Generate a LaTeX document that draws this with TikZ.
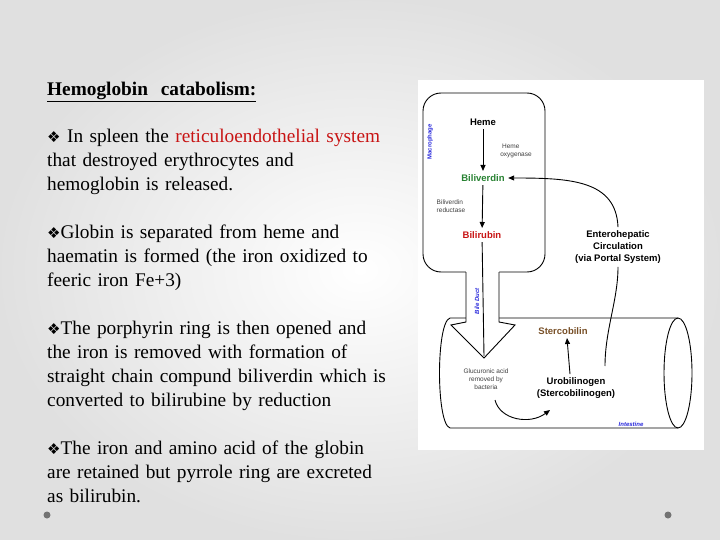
\documentclass[tikz,border=0pt]{standalone}
\usepackage{fontspec}
\setmainfont{Liberation Serif}
\newfontfamily\arialf{Liberation Sans}
\newfontfamily\dejav{DejaVu Sans}
\usetikzlibrary{arrows.meta}
\definecolor{redt}{RGB}{200,20,20}
\definecolor{greent}{RGB}{40,130,50}
\definecolor{brownt}{RGB}{120,80,40}
\definecolor{bluet}{RGB}{40,40,220}
\newcommand{\bul}{{\dejav\fontsize{15}{15}\selectfont ❖}}
\begin{document}
\begin{tikzpicture}[x=1pt,y=-1pt,
  body/.style={anchor=north west,align=left,text width=370pt,font=\fontsize{19.3}{24}\selectfont,inner sep=0pt},
  lab/.style={font=\arialf\bfseries\fontsize{9.5}{12}\selectfont,align=center},
  sm/.style={font=\arialf\fontsize{6.5}{8}\selectfont,align=left,text=black!75},
  arr/.style={-{Triangle[length=6pt,width=5pt]},line width=0.9pt}]
\useasboundingbox (0,0) rectangle (720,540);
\shade[inner color=white,outer color=black!12] (0,0) rectangle (720,540);
\fill[white] (418,80) rectangle (704,450);
% text
\node[body] (t0) at (47,82) {\textbf{\underline{Hemoglobin\ \ catabolism:}}};
\node[body] (t1) at (47,129) {\bul\ In spleen the \textcolor{redt}{reticuloendothelial system}\\that destroyed erythrocytes and\\hemoglobin is released.};
\node[body] (t2) at (47,225) {\bul Globin is separated from heme and\\haematin is formed (the iron oxidized to\\feeric iron Fe+3)};
\node[body] (t3) at (47,321) {\bul The porphyrin ring is then opened and\\the iron is removed with formation of\\straight chain compund biliverdin which is\\converted to bilirubine by reduction};
\node[body] (t4) at (47,441) {\bul The iron and amino acid of the globin\\are retained but pyrrole ring are excreted\\as bilirubin.};
\fill[black!55] (47,515) circle (3.5pt) (668,515) circle (3.5pt);
% macrophage
\draw[line width=0.9pt,rounded corners=18pt] (423,93) rectangle (545,272);
\node[font=\arialf\bfseries\fontsize{6}{7}\selectfont,text=bluet,rotate=90] (mac) at (430,142) {Macrophage};
\node[lab] (heme) at (483,122) {Heme};
\node[lab,text=greent] (bv) at (483,178) {Biliverdin};
\node[lab,text=redt] (br) at (482,235) {Bilirubin};
\node[sm] (ho) at (516,151) {\ Heme\\oxygenase};
\node[sm] (bvr) at (451,206) {Biliverdin\\reductase};
\draw[arr] (heme) -- (bv);
\draw[arr] (bv) -- (br);
% intestine
\draw[line width=0.9pt] (678,318) -- (450,318) .. controls (436,322) and (436,424) .. (450,428) -- (678,428);
\draw[line width=0.9pt] (678,373) ellipse (14pt and 55pt);
\node[font=\arialf\bfseries\itshape\fontsize{6}{7}\selectfont,text=bluet] (int) at (631,424) {Intestine};
% bile duct
\fill[white] (466,270) -- (499,270) -- (499,325) -- (515,325) -- (484,358) -- (451,325) -- (466,325) -- cycle;
\draw[line width=0.9pt] (466,272) -- (466,322) -- (451,325) -- (484,358) -- (515,325) -- (499,322) -- (499,272);
\node[font=\arialf\bfseries\itshape\fontsize{6}{7}\selectfont,text=bluet,rotate=90] (bd) at (477,301) {Bile Duct};
\coordinate (tip) at (484,356);
\draw[line width=0.9pt] (br) -- (tip);
\node[sm,align=center] (glu) at (486,379) {Glucuronic acid\\removed by\\bacteria};
\node[lab] (uro) at (576,388) {Urobilinogen\\(Stercobilinogen)};
\node[lab,text=brownt] (ster) at (563,331) {Stercobilin};
\node[lab] (ent) at (618,247) {Enterohepatic\\Circulation\\(via Portal System)};
\draw[arr] (uro.north) ++(-6,0) -- ([xshift=4pt]ster.south);
\draw[arr] (ent.north) .. controls (616,180) and (570,178) .. (bv.east);
\draw[line width=0.9pt] (ent.south) .. controls (618,300) and (605,330) .. (605,366);
\draw[arr] (495,400) .. controls (500,420) and (530,425) .. (550,410);
\end{tikzpicture}
\end{document}
